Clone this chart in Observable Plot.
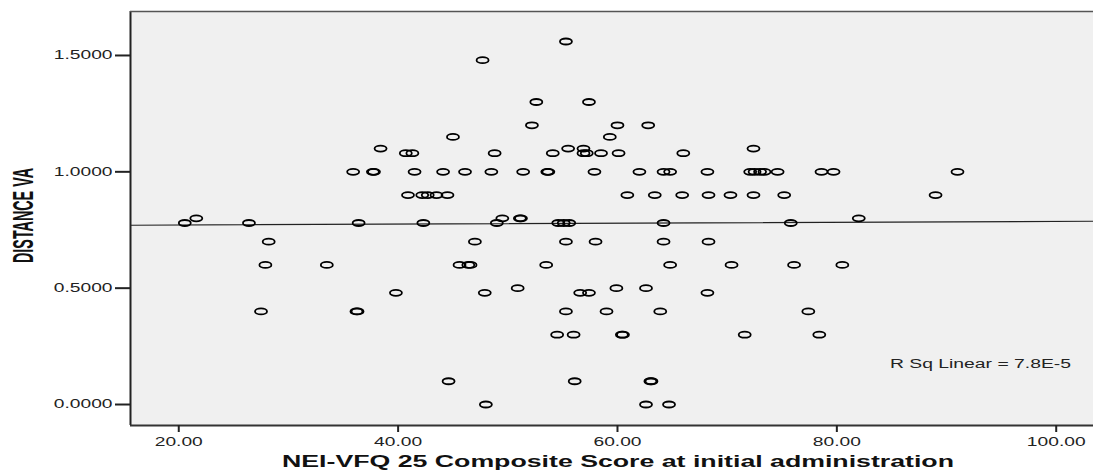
<!DOCTYPE html>
<html><head><meta charset="utf-8">
<script src="https://cdn.jsdelivr.net/npm/d3@7"></script>
<script src="https://cdn.jsdelivr.net/npm/@observablehq/plot@0.6"></script>
<style>body{margin:0;background:#fff} svg{display:block}</style>
</head><body><div id="chart"></div>
<script>
// ---- data ----
const xTicks = [20, 40, 60, 80, 100];
const yTicks = [0, 0.5, 1.0, 1.5];
// NEI-VFQ 25 composite score (x) and distance VA (y), paired by index
const score = [
  55.3,
  47.7,
  52.6, 57.4,
  52.2, 60.0, 62.8,
  45.0, 59.3,
  38.4, 55.5, 56.9, 72.4,
  40.7, 41.3, 48.8, 54.1, 56.9, 57.2, 58.5, 60.1, 66.0,
  35.9, 37.7, 37.8, 41.5, 44.1, 46.1, 48.5, 51.4, 53.6, 53.7, 57.9, 62.0, 64.2, 64.8, 68.2, 72.1, 72.5, 73.0, 73.4, 74.6, 78.6, 79.7, 91.0,
  40.9, 42.2, 42.7, 43.5, 44.5, 60.9, 63.4, 65.9, 68.3, 70.3, 72.4, 75.2, 89.0,
  21.6, 49.5, 51.1, 51.2, 82.0,
  20.55, 26.4, 36.4, 42.3, 49.0, 54.6, 55.1, 55.6, 64.2, 75.8,
  28.2, 47.0, 55.3, 58.0, 64.2, 68.3,
  27.9, 33.5, 45.6, 46.4, 46.6, 53.5, 64.8, 70.4, 76.1, 80.5,
  50.9, 59.9, 62.6,
  39.8, 47.9, 56.6, 57.4, 68.2,
  27.5, 36.2, 36.3, 55.3, 59.0, 63.9, 77.4,
  54.5, 56.0, 60.4, 60.5, 71.6, 78.4,
  44.6, 56.1, 63.0, 63.1,
  48.0, 62.6, 64.7
];
const va = [
  1.56,
  1.48,
  1.30, 1.30,
  1.20, 1.20, 1.20,
  1.15, 1.15,
  1.10, 1.10, 1.10, 1.10,
  1.08, 1.08, 1.08, 1.08, 1.08, 1.08, 1.08, 1.08, 1.08,
  1.00, 1.00, 1.00, 1.00, 1.00, 1.00, 1.00, 1.00, 1.00, 1.00, 1.00, 1.00, 1.00, 1.00, 1.00, 1.00, 1.00, 1.00, 1.00, 1.00, 1.00, 1.00, 1.00,
  0.90, 0.90, 0.90, 0.90, 0.90, 0.90, 0.90, 0.90, 0.90, 0.90, 0.90, 0.90, 0.90,
  0.80, 0.80, 0.80, 0.80, 0.80,
  0.78, 0.78, 0.78, 0.78, 0.78, 0.78, 0.78, 0.78, 0.78, 0.78,
  0.70, 0.70, 0.70, 0.70, 0.70, 0.70,
  0.60, 0.60, 0.60, 0.60, 0.60, 0.60, 0.60, 0.60, 0.60, 0.60,
  0.50, 0.50, 0.50,
  0.48, 0.48, 0.48, 0.48, 0.48,
  0.40, 0.40, 0.40, 0.40, 0.40, 0.40, 0.40,
  0.30, 0.30, 0.30, 0.30, 0.30, 0.30,
  0.10, 0.10, 0.10, 0.10,
  0.00, 0.00, 0.00
];
const fitIntercept = 0.7674;
const fitSlope = 0.000196;
const rSqLabel = "R Sq Linear = 7.8E-5";
const xTitle = "NEI-VFQ 25 Composite Score at initial administration";
const yTitle = "DISTANCE VA";

// ---- chart ----
const xDomain = [15.6, 103.4];
const yDomain = [-0.0902, 1.689];
const points = score.map((x, i) => ({x, y: va[i]}));
const fit = xDomain.map(x => ({x, y: fitIntercept + fitSlope * x}));

const ellipse = {
  draw(ctx) {
    const rx = 6.0, ry = 3.0, k = 0.5523;
    ctx.moveTo(rx, 0);
    ctx.bezierCurveTo(rx, k * ry, k * rx, ry, 0, ry);
    ctx.bezierCurveTo(-k * rx, ry, -rx, k * ry, -rx, 0);
    ctx.bezierCurveTo(-rx, -k * ry, -k * rx, -ry, 0, -ry);
    ctx.bezierCurveTo(k * rx, -ry, rx, -k * ry, rx, 0);
    ctx.closePath();
  }
};

const svg = Plot.plot({
  width: 1093, height: 470,
  marginLeft: 130, marginRight: 0, marginTop: 11, marginBottom: 45,
  style: {fontFamily: "'Liberation Sans', Arial, sans-serif", fontSize: "12px", background: "#fff", color: "#222"},
  x: {domain: xDomain, label: null},
  y: {domain: yDomain, label: null},
  marks: [
    Plot.frame({fill: "#f0f0f0", stroke: "none"}),
    Plot.line(fit, {x: "x", y: "y", stroke: "#222", strokeWidth: 1.2}),
    Plot.dot(points, {x: "x", y: "y", symbol: ellipse, stroke: "#000", strokeWidth: 1.8, fill: "none"}),
    Plot.ruleX([xDomain[0]], {stroke: "#222", strokeWidth: 2}),
    Plot.ruleY([yDomain[1]], {stroke: "#555", strokeWidth: 1.5}),
    Plot.ruleY([yDomain[0]], {stroke: "#333", strokeWidth: 1.8}),
    Plot.axisX({ticks: xTicks, tickFormat: d3.format(".2f"), tickSize: 7, tickPadding: 5, strokeWidth: 2, label: null}),
    Plot.axisY({ticks: yTicks, tickFormat: d3.format(".4f"), tickSize: 15, tickPadding: 3, strokeWidth: 2, label: null})
  ]
});

// widen tick labels horizontally like the reference
svg.querySelectorAll('g[aria-label$="tick label"] text').forEach(t => {
  let tr = t.getAttribute("transform") || "";
  const x = t.getAttribute("x");
  if (x) { tr += ` translate(${x},0)`; t.removeAttribute("x"); }
  t.setAttribute("transform", tr + " scale(1.6,1)");
});

const s = d3.select(svg);
s.append("text")
  .attr("x", 618).attr("y", 467)
  .attr("text-anchor", "middle").attr("font-weight", "bold").attr("font-size", 16)
  .attr("textLength", 672).attr("lengthAdjust", "spacingAndGlyphs")
  .attr("fill", "#111").text(xTitle);
s.append("text")
  .attr("transform", "translate(33,215.5) rotate(-90) scale(1,1.6)")
  .attr("text-anchor", "middle").attr("font-weight", "bold").attr("font-size", 18)
  .attr("textLength", 95).attr("lengthAdjust", "spacingAndGlyphs")
  .attr("fill", "#111").text(yTitle);
s.append("text")
  .attr("x", 890).attr("y", 368)
  .attr("text-anchor", "start").attr("font-size", 12)
  .attr("textLength", 181).attr("lengthAdjust", "spacingAndGlyphs")
  .attr("fill", "#222").text(rSqLabel);

document.getElementById("chart").appendChild(svg);
</script>
</body></html>
